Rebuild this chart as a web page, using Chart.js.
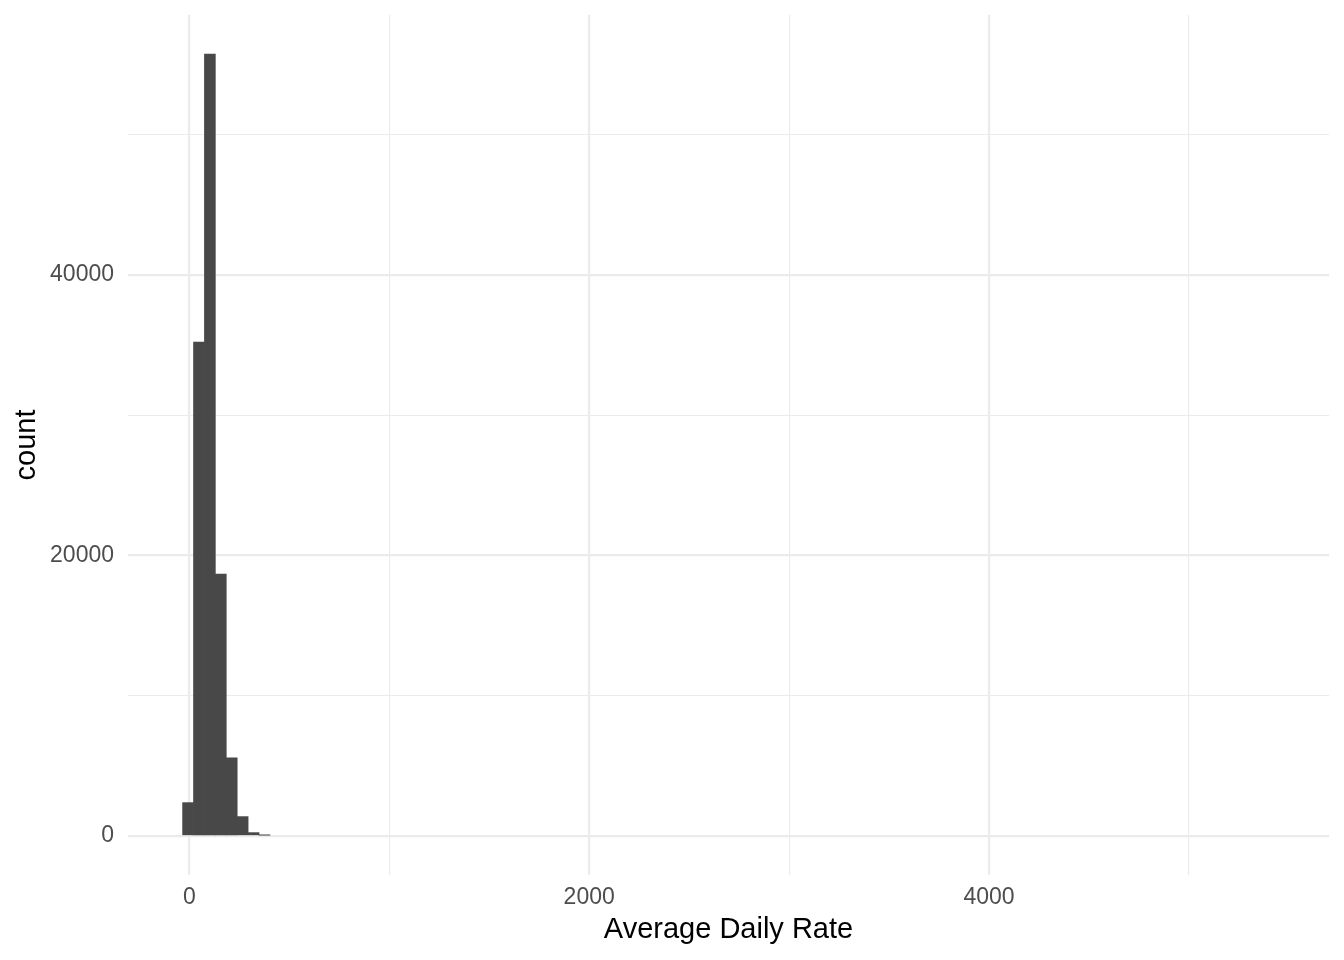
<!DOCTYPE html>
<html>
<head>
<meta charset="utf-8">
<script src="https://cdn.jsdelivr.net/npm/chart.js@4"></script>
<style>
  html, body { margin: 0; padding: 0; background: #fff; }
  #wrap { width: 1344px; height: 960px; }
</style>
</head>
<body>
<div id="wrap"><canvas id="chart"></canvas></div>
<script>
// histogram bins of the average daily rate (100 bins, width ~54.6)
// the lone outlier bin near 5400 is too small to show, only the axis reaches it
const binCenters = [-6.4, 48.2, 102.8, 157.5, 212.1, 266.7, 321.3, 375.9];
const binCounts  = [2374, 35220, 55760, 18680, 5560, 1376, 235, 50];

// axis limits (ggplot-style 5% expansion) and grid positions
const xMin = -306.8, xMax = 5700.4;
const yMin = -2788, yMax = 58546;
const xTicks = [0, 1000, 2000, 3000, 4000, 5000];
const yTicks = [0, 10000, 20000, 30000, 40000, 50000];
const xLabelled = [0, 2000, 4000];
const yLabelled = [0, 20000, 40000];

document.addEventListener('DOMContentLoaded', () => {
    const ctx = document.getElementById('chart');
    if (!ctx) return;

    const points = binCenters.map((c, i) => ({ x: c, y: binCounts[i] }));
    const grey = '#EBEBEB';
    const font = 'Liberation Sans, Arial, sans-serif';

    new Chart(ctx, {
        type: 'bar',
        data: {
            datasets: [{
                label: 'count',
                data: points,
                backgroundColor: '#484848',
                borderWidth: 0,
                barPercentage: 1,
                categoryPercentage: 1
            }]
        },
        options: {
            responsive: true,
            maintainAspectRatio: false,
            animation: false,
            layout: { padding: { top: 15, right: 15, left: 0, bottom: 0 } },
            plugins: { legend: { display: false }, tooltip: { enabled: false } },
            scales: {
                x: {
                    type: 'linear',
                    min: xMin,
                    max: xMax,
                    offset: false,
                    border: { display: false },
                    afterBuildTicks: s => { s.ticks = xTicks.map(v => ({ value: v })); },
                    grid: {
                        offset: false,
                        drawTicks: false,
                        color: grey,
                        lineWidth: c => (c.tick && xLabelled.includes(c.tick.value)) ? 2.2 : 1.1
                    },
                    ticks: {
                        autoSkip: false,
                        maxRotation: 0,
                        padding: 9,
                        color: '#4D4D4D',
                        font: { family: font, size: 23 },
                        callback: v => xLabelled.includes(v) ? String(v) : ''
                    },
                    title: {
                        display: true,
                        text: 'Average Daily Rate',
                        color: '#000',
                        padding: { top: 4, bottom: 13 },
                        font: { family: font, size: 29 }
                    },
                    afterFit: s => { s.height = 85; s.paddingLeft = 0; s.paddingRight = 0; }
                },
                y: {
                    min: yMin,
                    max: yMax,
                    border: { display: false },
                    afterBuildTicks: s => { s.ticks = yTicks.map(v => ({ value: v })); },
                    grid: {
                        drawTicks: false,
                        color: grey,
                        lineWidth: c => (c.tick && yLabelled.includes(c.tick.value)) ? 2.2 : 1.1
                    },
                    ticks: {
                        autoSkip: false,
                        padding: 14,
                        color: '#4D4D4D',
                        font: { family: font, size: 23 },
                        callback: v => yLabelled.includes(v) ? String(v) : ''
                    },
                    title: {
                        display: true,
                        text: 'count',
                        color: '#000',
                        padding: { top: 10, bottom: 4 },
                        font: { family: font, size: 29 }
                    },
                    afterFit: s => { s.width = 128; s.paddingTop = 0; s.paddingBottom = 0; }
                }
            }
        }
    });
});
</script>
</body>
</html>
